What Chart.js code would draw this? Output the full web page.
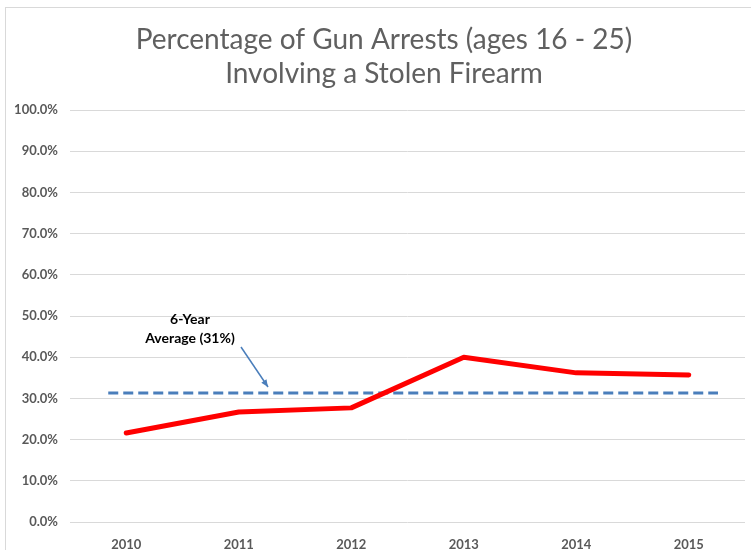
<!DOCTYPE html>
<html>
<head>
<meta charset="utf-8">
<script src="https://cdn.jsdelivr.net/npm/chart.js@4/dist/chart.umd.min.js"></script>
<style>
  html, body { margin: 0; padding: 0; background: #fff; }
  #wrap { width: 751px; height: 550px; position: relative; }
</style>
</head>
<body>
<div id="wrap"><canvas id="gunChart"></canvas></div>
<script>
const years = [2010, 2011, 2012, 2013, 2014, 2015];
const stolenPct = [21.6, 26.7, 27.7, 40.0, 36.2, 35.7];
const averagePct = 31.3;
const averageSpan = [2009.84, 2015.26];
const yTicks = [0, 10, 20, 30, 40, 50, 60, 70, 80, 90, 100];
const titleLines = ['Percentage of Gun Arrests (ages 16 - 25)', 'Involving a Stolen Firearm'];
const noteLines = ['6-Year', 'Average (31%)'];

const grey = '#595959';
const blue = '#4a7ebb';
const fontFamily = 'Lato, "Open Sans", sans-serif';

// title, frame and the arrow note are drawn straight onto the canvas
const decorations = {
  id: 'decorations',
  beforeDraw(chart) {
    const ctx = chart.ctx;
    ctx.save();
    ctx.strokeStyle = '#d9d9d9';
    ctx.lineWidth = 1;
    ctx.strokeRect(5.5, 7.5, 800, 600);
    ctx.restore();
  },
  afterDraw(chart) {
    const ctx = chart.ctx;
    const x = chart.scales.x, y = chart.scales.y;
    ctx.save();
    ctx.fillStyle = '#606060';
    ctx.textAlign = 'center';
    ctx.textBaseline = 'middle';
    ctx.font = '28px ' + fontFamily;
    ctx.fillText(titleLines[0], 384, 40);
    ctx.fillText(titleLines[1], 384, 74);

    ctx.fillStyle = '#000';
    ctx.font = 'bold 14px ' + fontFamily;
    ctx.fillText(noteLines[0], 190, 319);
    ctx.fillText(noteLines[1], 190, 338);

    // arrow down to the average line
    const x1 = 241, y1 = 347;
    const x2 = x.getPixelForValue(2011.26), y2 = y.getPixelForValue(averagePct) - 6;
    ctx.strokeStyle = blue;
    ctx.fillStyle = blue;
    ctx.lineWidth = 1.5;
    ctx.beginPath();
    ctx.moveTo(x1, y1);
    ctx.lineTo(x2, y2);
    ctx.stroke();
    const ang = Math.atan2(y2 - y1, x2 - x1);
    ctx.beginPath();
    ctx.moveTo(x2, y2);
    ctx.lineTo(x2 - 8 * Math.cos(ang - 0.4), y2 - 8 * Math.sin(ang - 0.4));
    ctx.lineTo(x2 - 8 * Math.cos(ang + 0.4), y2 - 8 * Math.sin(ang + 0.4));
    ctx.closePath();
    ctx.fill();
    ctx.restore();
  }
};

new Chart(document.getElementById('gunChart'), {
  type: 'line',
  data: {
    datasets: [
      {
        label: 'Average',
        data: averageSpan.map(v => ({ x: v, y: averagePct })),
        borderColor: blue,
        borderWidth: 3,
        borderDash: [10, 5],
        pointRadius: 0,
        order: 2
      },
      {
        label: 'Stolen firearm',
        data: years.map((yr, i) => ({ x: yr, y: stolenPct[i] })),
        borderColor: '#ff0000',
        borderWidth: 5,
        borderCapStyle: 'round',
        borderJoinStyle: 'round',
        pointRadius: 0,
        tension: 0,
        order: 1
      }
    ]
  },
  options: {
    responsive: true,
    maintainAspectRatio: false,
    animation: false,
    layout: { padding: { top: 110, right: 6, left: 0, bottom: 0 } },
    plugins: {
      legend: { display: false },
      tooltip: { enabled: false }
    },
    scales: {
      x: {
        type: 'linear',
        min: 2009.5,
        max: 2015.5,
        afterBuildTicks: s => { s.ticks = years.map(v => ({ value: v })); },
        afterFit: s => { s.height = 28; },
        grid: { display: false, drawTicks: false },
        border: { display: false },
        ticks: {
          padding: 15,
          color: grey,
          font: { family: fontFamily, size: 13, weight: 'bold' },
          callback: v => String(v)
        }
      },
      y: {
        min: 0,
        max: 100,
        afterBuildTicks: s => { s.ticks = yTicks.map(v => ({ value: v })); },
        afterFit: s => { s.width = 70; },
        grid: { color: '#d9d9d9', lineWidth: 1, drawTicks: false },
        border: { display: false },
        ticks: {
          padding: 12,
          color: grey,
          font: { family: fontFamily, size: 13, weight: 'bold' },
          callback: v => v.toFixed(1) + '%'
        }
      }
    }
  },
  plugins: [decorations]
});
</script>
</body>
</html>
